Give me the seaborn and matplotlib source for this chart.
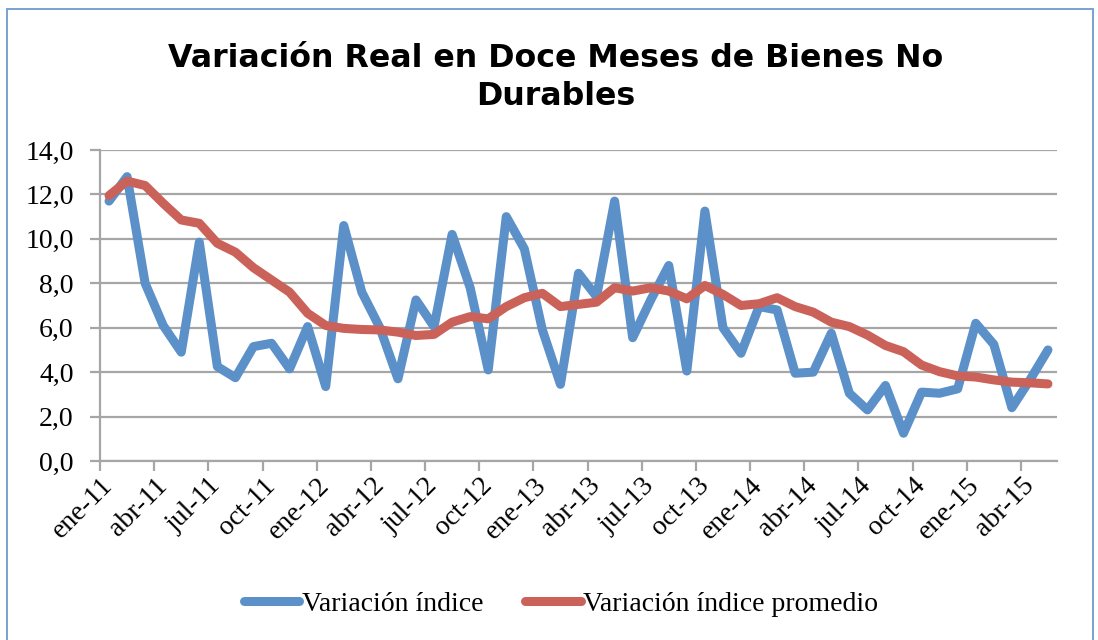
import numpy as np
import pandas as pd
import seaborn as sns
from matplotlib import pyplot as plt
from matplotlib.patches import Rectangle

sns.set_style('white')
plt.rcParams['font.family'] = ['Liberation Serif', 'DejaVu Serif']
plt.rcParams['text.color'] = 'black'
plt.rcParams['xtick.color'] = 'black'
plt.rcParams['ytick.color'] = 'black'

meses = ['ene', 'feb', 'mar', 'abr', 'may', 'jun', 'jul', 'ago', 'sep', 'oct', 'nov', 'dic']
periodos = [f'{m}-{a}' for a in range(11, 16) for m in meses][:53]  # ene-11 .. may-15

variacion = [11.7, 12.8, 8.0, 6.1, 4.9, 9.85, 4.25, 3.75, 5.15, 5.3,
             4.15, 6.05, 3.35, 10.6, 7.6, 6.0, 3.7, 7.25, 6.05, 10.2,
             7.8, 4.1, 11.0, 9.55, 5.9, 3.45, 8.45, 7.4, 11.7, 5.55,
             7.25, 8.8, 4.05, 11.25, 6.0, 4.85, 6.95, 6.8, 3.95, 4.0,
             5.75, 3.05, 2.3, 3.4, 1.25, 3.1, 3.05, 3.25, 6.2, 5.25,
             2.4, 3.65, 5.0]

promedio = [11.95, 12.6, 12.4, 11.6, 10.85, 10.7, 9.8, 9.4, 8.7, 8.15,
            7.6, 6.65, 6.1, 5.97, 5.92, 5.9, 5.8, 5.65, 5.7, 6.25,
            6.5, 6.4, 6.95, 7.35, 7.55, 6.95, 7.05, 7.15, 7.8, 7.65,
            7.8, 7.65, 7.3, 7.9, 7.5, 7.0, 7.08, 7.35, 6.95, 6.7,
            6.25, 6.05, 5.67, 5.2, 4.92, 4.32, 4.02, 3.83, 3.78, 3.65,
            3.55, 3.52, 3.47]

y_ticks = [0, 2, 4, 6, 8, 10, 12, 14]
y_labels = ['0,0', '2,0', '4,0', '6,0', '8,0', '10,0', '12,0', '14,0']

azul = '#5B90C8'
rojo = '#CB6259'
gris = '#A6A6A6'

df = pd.DataFrame({'pos': np.arange(len(periodos)), 'mes': periodos,
                   'variacion': variacion, 'promedio': promedio})

fig = plt.figure(figsize=(10.98, 6.4), dpi=100)
ax = fig.add_axes([100 / 1098, 179 / 640, 957 / 1098, 311 / 640])

estilo = dict(lw=6.5, solid_capstyle='round', solid_joinstyle='round')
sns.lineplot(data=df, x='pos', y='variacion', ax=ax, color=azul, label='Variación índice', **estilo)
sns.lineplot(data=df, x='pos', y='promedio', ax=ax, color=rojo, label='Variación índice promedio', **estilo)

ax.set_xlim(-0.5, len(periodos) - 0.5)
ax.set_ylim(0, 14)
ax.set_xlabel('')
ax.set_ylabel('')

ax.set_yticks(y_ticks)
ax.set_yticklabels(y_labels)
ax.yaxis.grid(True, color=gris, lw=1.6)
ax.set_axisbelow(True)

# etiquetas cada 3 meses, marcas en los limites de categoria
ax.set_xticks(df['pos'][::3])
ax.set_xticklabels(df['mes'][::3])
ax.set_xticks(np.arange(-0.5, len(periodos) - 1, 3), minor=True)
ax.tick_params(axis='x', which='major', bottom=True, length=0, pad=15, labelsize=20, labelcolor='black')
ax.tick_params(axis='x', which='minor', bottom=True, length=7, width=1.6, color=gris, direction='out')
ax.tick_params(axis='y', left=True, length=7, width=1.6, color=gris, direction='out', pad=12,
               labelsize=20, labelcolor='black')
for lab in ax.get_xticklabels():
    lab.set_rotation(45)
    lab.set_ha('right')
    lab.set_va('center')
    lab.set_rotation_mode('anchor')

for s in ['top', 'right']:
    ax.spines[s].set_visible(False)
for s in ['left', 'bottom']:
    ax.spines[s].set_color(gris)
    ax.spines[s].set_linewidth(1.6)

leg = ax.legend(loc='center', bbox_to_anchor=(561 / 1098, 1 - 604 / 640), bbox_transform=fig.transFigure,
                ncol=2, frameon=False, fontsize=20, handlelength=2.0, handletextpad=0.1, columnspacing=1.5)
for h in leg.get_lines():
    h.set_solid_capstyle('round')

fig.text(556 / 1098, 1 - 67 / 640, 'Variación Real en Doce Meses de Bienes No', ha='center', va='baseline',
         fontsize=22.8, fontweight='bold', color='black', family=['DejaVu Sans'])
fig.text(556 / 1098, 1 - 105 / 640, 'Durables', ha='center', va='baseline',
         fontsize=22.8, fontweight='bold', color='black', family=['DejaVu Sans'])

fig.patches.append(Rectangle((7 / 1098, -0.02), (1093 - 7) / 1098, 1 - 9 / 640 + 0.02,
                             transform=fig.transFigure, fill=False, edgecolor='#6D9BD1', lw=1.3))

fig.savefig('out.png', dpi=100)
